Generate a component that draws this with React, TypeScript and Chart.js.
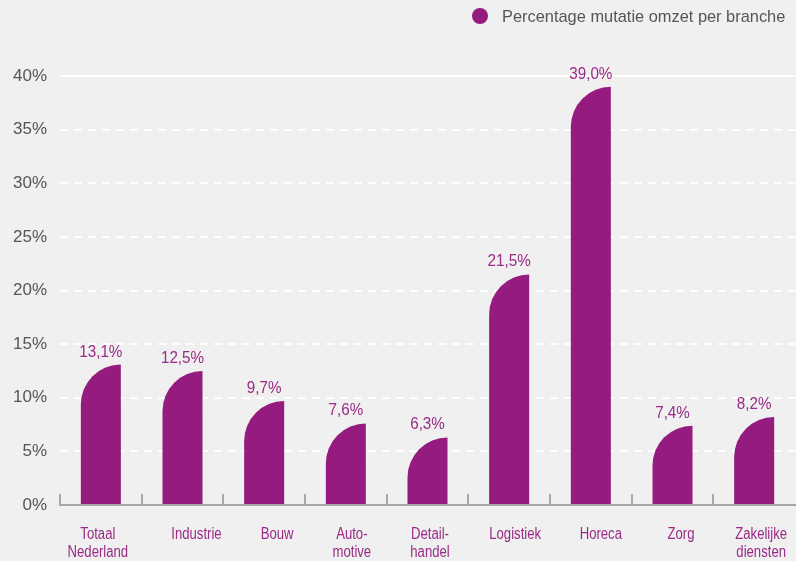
import React, { useEffect, useRef } from "react";
import { Chart, registerables } from "chart.js";

Chart.register(...registerables);

const categories: string[][] = [
  ["Totaal", "Nederland"],
  ["Industrie"],
  ["Bouw"],
  ["Auto-", "motive"],
  ["Detail-", "handel"],
  ["Logistiek"],
  ["Horeca"],
  ["Zorg"],
  ["Zakelijke", "diensten"],
];
const values = [13.1, 12.5, 9.7, 7.6, 6.3, 21.5, 39.0, 7.4, 8.2];
const seriesLabel = "Percentage mutatie omzet per branche";
const yTicks = [0, 5, 10, 15, 20, 25, 30, 35, 40];

// style: horizontal nudge of each category label relative to its bar (as in the original layout)
const labelNudge = [-3, 14, 13, 6, 2.5, 6, 10, 8.5, 7];

const PURPLE = "#951b7f";
const LABEL_PURPLE = "#9a2a86";
const BG = "#f0f0f0";
const GREY_TEXT = "#555555";
const FONT = "'Liberation Sans', Arial, sans-serif";

const fmt = (v: number) => v.toFixed(1).replace(".", ",") + "%";

const customPlugin = {
  id: "custom",
  beforeDraw(chart: any) {
    const { ctx, width, height } = chart;
    ctx.save();
    ctx.fillStyle = BG;
    ctx.fillRect(0, 0, width, height);
    ctx.restore();
  },
  afterDatasetsDraw(chart: any) {
    const { ctx } = chart;
    const meta = chart.getDatasetMeta(0);
    const xScale = chart.scales.x;
    ctx.save();
    // category boundary ticks upward from axis
    ctx.strokeStyle = "#a8a8a8";
    ctx.lineWidth = 2;
    const n = categories.length;
    const step = xScale.getPixelForValue(1) - xScale.getPixelForValue(0);
    const axisY = chart.chartArea.bottom;
    for (let i = 0; i < n; i++) {
      const x = Math.round(xScale.getPixelForValue(i) - step / 2);
      ctx.beginPath();
      ctx.moveTo(x, axisY);
      ctx.lineTo(x, axisY - 11);
      ctx.stroke();
    }
    // x category labels (condensed)
    ctx.fillStyle = LABEL_PURPLE;
    ctx.font = "16px " + FONT;
    ctx.textAlign = "center";
    ctx.textBaseline = "alphabetic";
    categories.forEach((lines, i) => {
      const cx = xScale.getPixelForValue(i) + labelNudge[i];
      lines.forEach((t, j) => {
        ctx.save();
        ctx.translate(cx, axisY + 34 + j * 17.5);
        ctx.scale(0.82, 1);
        ctx.fillText(t, 0, 0);
        ctx.restore();
      });
    });
    // bars
    ctx.fillStyle = PURPLE;
    meta.data.forEach((el: any, i: number) => {
      const { x, y, base, width } = el.getProps(["x", "y", "base", "width"], true);
      const left = x - width / 2;
      const right = x + width / 2;
      const h = base - y;
      const r = Math.min(width, h);
      ctx.beginPath();
      ctx.moveTo(left, base);
      ctx.lineTo(left, y + r);
      ctx.arcTo(left, y, left + r, y, r);
      ctx.lineTo(right, y);
      ctx.lineTo(right, base);
      ctx.closePath();
      ctx.fill();
      ctx.save();
      ctx.fillStyle = LABEL_PURPLE;
      ctx.font = "16px " + FONT;
      ctx.textAlign = "center";
      ctx.translate(x, y - 8);
      ctx.scale(0.95, 1);
      ctx.fillText(fmt(values[i]), 0, 0);
      ctx.restore();
    });
    // legend
    ctx.fillStyle = PURPLE;
    ctx.beginPath();
    ctx.arc(480, 16, 8, 0, Math.PI * 2);
    ctx.fill();
    ctx.fillStyle = GREY_TEXT;
    ctx.font = "16.4px " + FONT;
    ctx.textAlign = "left";
    ctx.fillText(chart.data.datasets[0].label, 502, 22);
    ctx.restore();
  },
};

export default function App() {
  const ref = useRef<HTMLCanvasElement>(null);
  useEffect(() => {
    document.body.style.margin = "0";
    const chart = new Chart(ref.current!, {
      type: "bar",
      data: {
        labels: categories.map((l) => l.join(" ")),
        datasets: [
          {
            label: seriesLabel,
            data: values,
            backgroundColor: "rgba(0,0,0,0)",
            barPercentage: 0.49,
            categoryPercentage: 1,
          },
        ],
      },
      options: {
        responsive: false,
        animation: false,
        layout: { padding: { top: 76, right: 1, left: 0, bottom: 0 } },
        plugins: { legend: { display: false }, tooltip: { enabled: false } },
        scales: {
          x: {
            offset: true,
            grid: { display: false, drawTicks: false },
            border: { display: true, color: "#a8a8a8", width: 2 },
            ticks: { display: false },
            afterFit: (s: any) => {
              s.height = 56;
              s.paddingLeft = 0;
              s.paddingRight = 0;
            },
          },
          y: {
            min: 0,
            max: 40,
            afterBuildTicks: (s: any) => { s.ticks = yTicks.map((v) => ({ value: v })); },
            grid: {
              drawTicks: false,
              color: (c: any) => (c.tick && c.tick.value === 0 ? "rgba(0,0,0,0)" : "#ffffff"),
              lineWidth: 2,
            },
            border: {
              display: false,
              dash: (c: any) => (c.tick && c.tick.value === 40 ? [] : [8, 6]),
            },
            ticks: {
              color: GREY_TEXT,
              padding: 13,
              font: { family: FONT, size: 17 },
              callback: (v: any) => v + "%",
            },
            afterFit: (s: any) => {
              s.width = 60;
              s.paddingTop = 0;
              s.paddingBottom = 0;
            },
          },
        },
      },
      plugins: [customPlugin],
    });
    return () => chart.destroy();
  }, []);
  return (
    <div style={{ position: "absolute", left: 0, top: 0, width: 796, height: 561 }}>
      <canvas ref={ref} width={796} height={561} />
    </div>
  );
}
